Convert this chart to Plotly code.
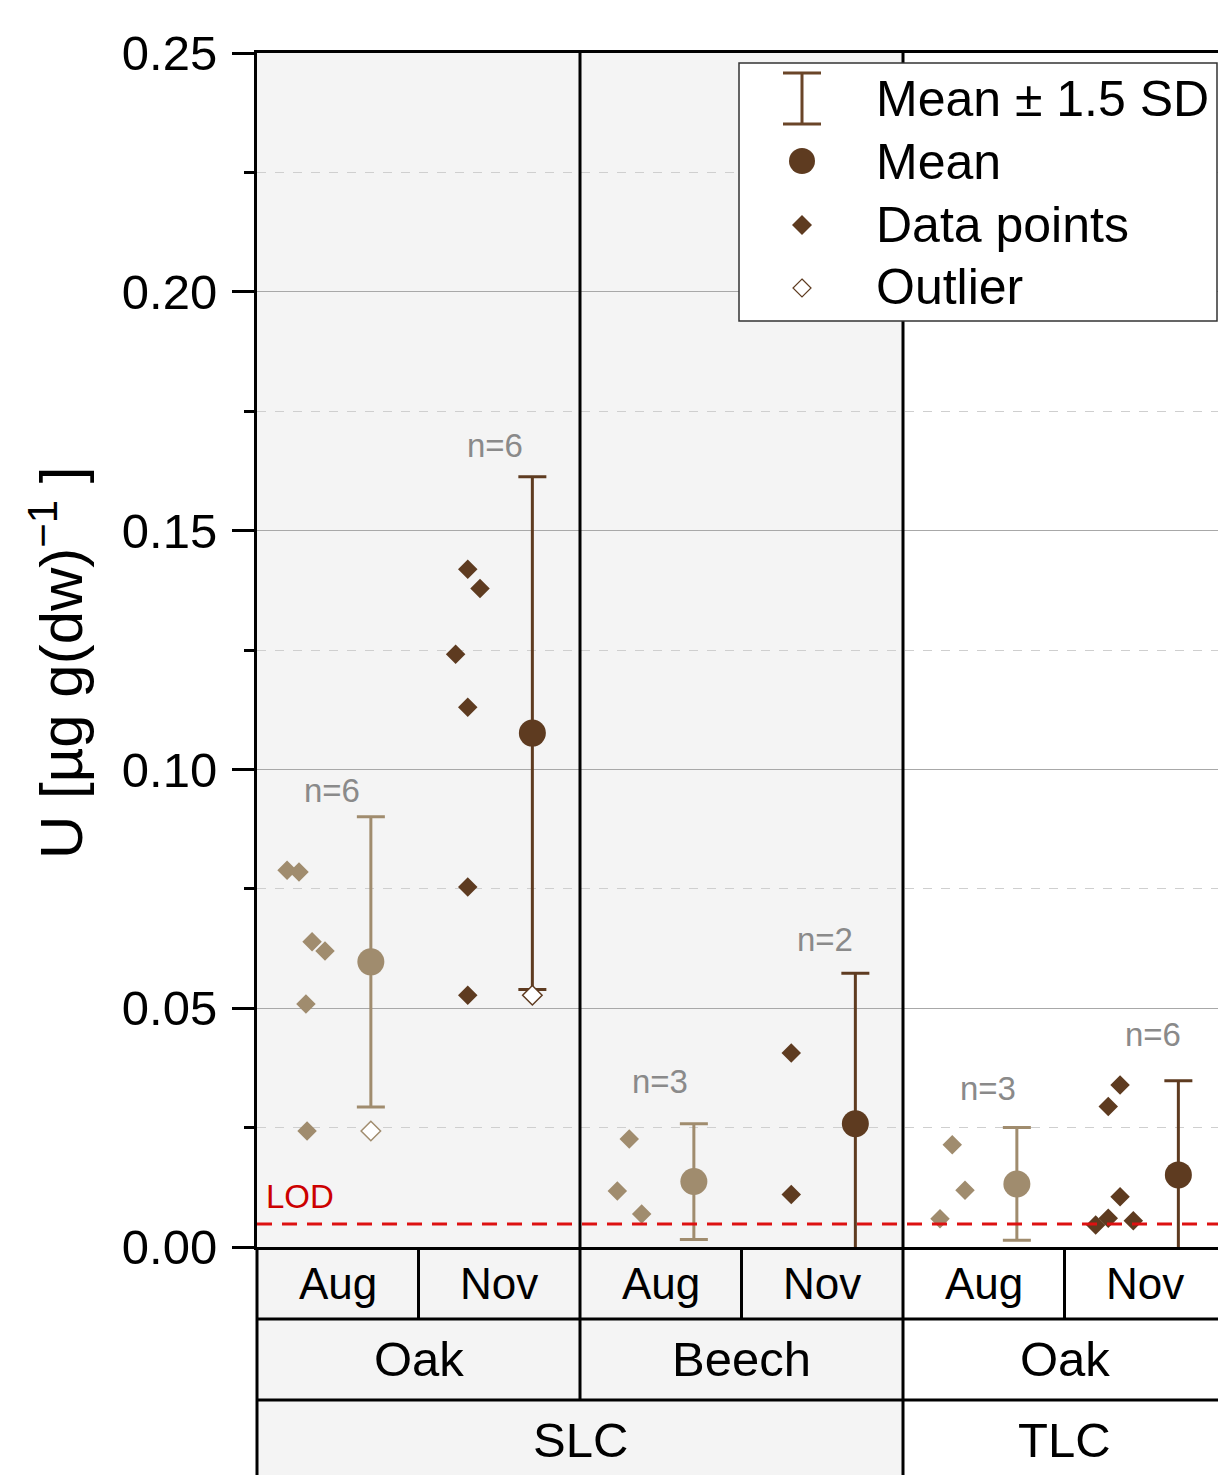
import plotly.graph_objects as go

# ---------------- data ----------------
layers = ["SLC", "SLC", "SLC", "SLC", "TLC", "TLC"]
species = ["Oak", "Oak", "Beech", "Beech", "Oak", "Oak"]
months = ["Aug", "Nov", "Aug", "Nov", "Aug", "Nov"]

oak_slc_aug = [0.0789, 0.0785, 0.0639, 0.0620, 0.0509, 0.0243]
oak_slc_nov = [0.1419, 0.1379, 0.1241, 0.1130, 0.0754, 0.0527]
beech_slc_aug = [0.0226, 0.0117, 0.0069]
beech_slc_nov = [0.0406, 0.0110]
oak_tlc_aug = [0.0214, 0.0119, 0.0059]
oak_tlc_nov = [0.0339, 0.0294, 0.0105, 0.0060, 0.0046, 0.0055]
group_values = [oak_slc_aug, oak_slc_nov, beech_slc_aug, beech_slc_nov, oak_tlc_aug, oak_tlc_nov]

# horizontal jitter of the data points inside each group (fraction of group width)
jitter_oak_slc_aug = [0.186, 0.260, 0.341, 0.421, 0.303, 0.310]
jitter_oak_slc_nov = [0.305, 0.381, 0.230, 0.305, 0.305, 0.305]
jitter_beech_slc_aug = [0.305, 0.231, 0.382]
jitter_beech_slc_nov = [0.308, 0.308]
jitter_oak_tlc_aug = [0.305, 0.384, 0.229]
jitter_oak_tlc_nov = [0.344, 0.271, 0.344, 0.271, 0.193, 0.426]
group_jitter = [jitter_oak_slc_aug, jitter_oak_slc_nov, jitter_beech_slc_aug,
                jitter_beech_slc_nov, jitter_oak_tlc_aug, jitter_oak_tlc_nov]

means = [0.0597, 0.1076, 0.0137, 0.0258, 0.0132, 0.0151]
sds = [0.02027, 0.0358, 0.00807, 0.0210, 0.00787, 0.01313]
n_counts = [6, 6, 3, 2, 3, 6]
n_label_y = [0.0955, 0.1679, 0.0346, 0.0644, 0.0332, 0.0444]
n_label_x = [0.463, 0.474, 0.495, 0.517, 0.528, 0.550]

outlier_groups = [0, 1]
outlier_values = [0.0243, 0.0527]

LOD = 0.0048
y_ticks = [0.00, 0.05, 0.10, 0.15, 0.20, 0.25]

# ---------------- style ----------------
FONT = "Liberation Sans, Arial, sans-serif"
TAN = "#a08c6e"
BROWN = "#5e3b20"
GRAY_BG = "#f4f4f4"
month_color = {"Aug": TAN, "Nov": BROWN}

W, H = 1218, 1475
L, T, B = 257, 53, 228
PW = W - L            # plot width in px
PH = H - T - B        # plot height in px
GROUP_PX = 161.5      # px per group
XMAX = PW / GROUP_PX
MEAN_OFF = 0.705

def px_x(px):
    return (px - L) / PW

def px_y(py):
    return (H - B - py) / PH

fig = go.Figure()

# data points
for g, (vals, jit) in enumerate(zip(group_values, group_jitter)):
    fig.add_trace(go.Scatter(
        x=[g + j for j in jit], y=vals, mode="markers",
        marker=dict(symbol="diamond", size=15, color=month_color[months[g]], line=dict(width=0)),
        showlegend=False, hoverinfo="y"))

# mean +- 1.5 SD
for g in range(len(means)):
    c = month_color[months[g]]
    fig.add_trace(go.Scatter(
        x=[g + MEAN_OFF], y=[means[g]], mode="markers",
        marker=dict(symbol="circle", size=27, color=c, line=dict(width=0)),
        error_y=dict(type="data", array=[1.5 * sds[g]], visible=True, color=c, thickness=3, width=14),
        showlegend=False, hoverinfo="y"))

# outliers
for og, ov in zip(outlier_groups, outlier_values):
    fig.add_trace(go.Scatter(
        x=[og + MEAN_OFF], y=[ov], mode="markers",
        marker=dict(symbol="diamond", size=15, color="white",
                    line=dict(width=1.5, color=month_color[months[og]])),
        showlegend=False, hoverinfo="y"))

shapes = []
annotations = []

# gray background for SLC panels (plot + category boxes)
n_slc = sum(1 for l in layers if l == "SLC")
shapes.append(dict(type="rect", xref="x", yref="paper", x0=0, x1=n_slc, y0=px_y(H), y1=1,
                   fillcolor=GRAY_BG, line=dict(width=0), layer="below"))

# LOD line
shapes.append(dict(type="line", xref="paper", yref="y", x0=0, x1=1, y0=LOD, y1=LOD,
                   line=dict(color="#dd1111", width=3, dash="15px,10px"), layer="above"))
annotations.append(dict(text="LOD", xref="paper", yref="y", x=px_x(264), y=0.0105,
                        xanchor="left", yanchor="middle", showarrow=False,
                        font=dict(family=FONT, size=33, color="#cc0000")))

BLK = dict(color="black", width=3)
row1_bot = px_y(1319)
row2_bot = px_y(1400)
bottom = px_y(H + 5)

# horizontal row lines
for yy in [row1_bot, row2_bot]:
    shapes.append(dict(type="line", xref="paper", yref="paper", x0=0, x1=1.01, y0=yy, y1=yy, line=BLK))
# left axis extension down
shapes.append(dict(type="line", xref="paper", yref="paper", x0=0, x1=0, y0=0, y1=bottom, line=BLK))

# vertical separators
for g in range(1, len(months)):
    if layers[g] != layers[g - 1]:
        y_end = bottom
    elif species[g] != species[g - 1]:
        y_end = row2_bot
    else:
        y_end = row1_bot
    y_start = 1 if y_end != row1_bot else 0
    shapes.append(dict(type="line", xref="paper", yref="paper", x0=g / XMAX, x1=g / XMAX,
                       y0=y_start, y1=y_end, line=BLK))

# category labels
def add_label(text, x_center, y_px, size):
    annotations.append(dict(text=text, xref="paper", yref="paper", x=x_center / XMAX, y=px_y(y_px),
                            xanchor="center", yanchor="middle", showarrow=False,
                            font=dict(family=FONT, size=size, color="black")))

for g, m in enumerate(months):
    add_label(m, g + 0.5, 1283, 44)

def spans(keys):
    out = []
    start = 0
    for i in range(1, len(keys) + 1):
        if i == len(keys) or keys[i] != keys[start]:
            out.append((keys[start], start, i))
            start = i
    return out

for (lab, s, e) in spans([l + "|" + s for l, s in zip(layers, species)]):
    add_label(lab.split("|")[1], (s + e) / 2, 1359, 49)
for (lab, s, e) in spans(layers):
    add_label(lab, (s + e) / 2, 1440, 49)

# n labels
for g in range(len(n_counts)):
    annotations.append(dict(text=f"n={n_counts[g]}", xref="x", yref="y", x=g + n_label_x[g], y=n_label_y[g],
                            xanchor="center", yanchor="middle", showarrow=False,
                            font=dict(family=FONT, size=33, color="#8a8a8a")))

# y-axis title
annotations.append(dict(text="U [µg g(dw)<sup>−1</sup> ]", xref="paper", yref="paper",
                        x=px_x(57), y=px_y(663), textangle=-90, xanchor="center", yanchor="middle",
                        showarrow=False, font=dict(family=FONT, size=60, color="black")))

# custom legend
shapes.append(dict(type="rect", xref="paper", yref="paper", x0=px_x(739), x1=px_x(1217),
                   y0=px_y(321), y1=px_y(63), fillcolor="white", line=dict(color="#333333", width=1.5),
                   layer="above"))
ICX = px_x(802)
LEG_C = "#6a4528"
shapes.append(dict(type="line", xref="paper", yref="paper", x0=ICX, x1=ICX, y0=px_y(73), y1=px_y(124),
                   line=dict(color=LEG_C, width=3), layer="above"))
for yy in [73, 124]:
    shapes.append(dict(type="line", xref="paper", yref="paper", x0=px_x(783), x1=px_x(821),
                       y0=px_y(yy), y1=px_y(yy), line=dict(color=LEG_C, width=3), layer="above"))
shapes.append(dict(type="circle", xref="paper", yref="paper", xsizemode="pixel", ysizemode="pixel",
                   xanchor=ICX, yanchor=px_y(161), x0=-13, x1=13, y0=-13, y1=13,
                   fillcolor=BROWN, line=dict(width=0), layer="above"))
shapes.append(dict(type="path", xref="paper", yref="paper", xsizemode="pixel", ysizemode="pixel",
                   xanchor=ICX, yanchor=px_y(225), path="M 0,10 L 10,0 L 0,-10 L -10,0 Z",
                   fillcolor=BROWN, line=dict(width=0), layer="above"))
shapes.append(dict(type="path", xref="paper", yref="paper", xsizemode="pixel", ysizemode="pixel",
                   xanchor=ICX, yanchor=px_y(288), path="M 0,9 L 9,0 L 0,-9 L -9,0 Z",
                   fillcolor="white", line=dict(color=BROWN, width=1.2), layer="above"))
for txt, yy in [("Mean ± 1.5 SD", 99), ("Mean", 162), ("Data points", 225), ("Outlier", 287)]:
    annotations.append(dict(text=txt, xref="paper", yref="paper", x=px_x(874), y=px_y(yy),
                            xanchor="left", yanchor="middle", showarrow=False,
                            font=dict(family=FONT, size=50, color="black")))

fig.update_layout(
    width=W, height=H,
    margin=dict(l=L, r=0, t=T, b=B, pad=0),
    paper_bgcolor="white", plot_bgcolor="white",
    shapes=shapes, annotations=annotations,
    showlegend=False,
    xaxis=dict(range=[0, XMAX], showgrid=False, zeroline=False, showticklabels=False, ticks="",
               showline=True, linecolor="black", linewidth=3, mirror=True, fixedrange=True),
    yaxis=dict(range=[0, 0.25], tickvals=y_ticks, tickformat=".2f", ticks="outside", ticklen=22,
               tickwidth=3, tickcolor="black", showline=True, linecolor="black", linewidth=3,
               zeroline=False, showgrid=True, gridcolor="#a8a8a8", gridwidth=1.2,
               ticklabelstandoff=5,
               tickfont=dict(family=FONT, size=49, color="black"),
               minor=dict(dtick=0.025, tick0=0, ticks="outside", ticklen=10, tickwidth=3, tickcolor="black",
                          showgrid=True, gridcolor="#cfcfcf", griddash="dash", gridwidth=1),
               fixedrange=True),
)

fig.write_html("out.html", config={"displayModeBar": False},
               post_script="document.body.style.margin='0';document.body.style.overflow='hidden';")
